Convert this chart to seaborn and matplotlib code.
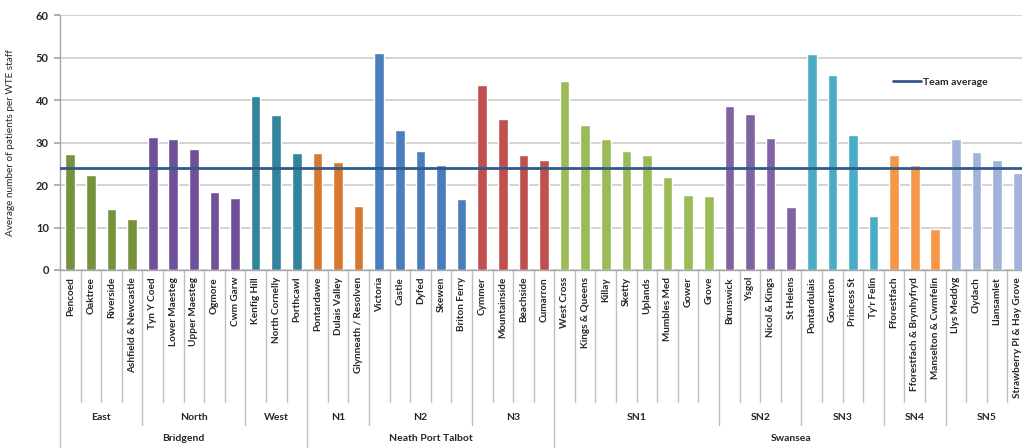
import matplotlib
matplotlib.use("Agg")
import matplotlib.pyplot as plt
import matplotlib.transforms as mtransforms
import seaborn as sns
import pandas as pd

# Practices, the team (sub-area) and the locality they belong to
practices = [
    "Pencoed", "Oaktree", "Riverside", "Ashfield & Newcastle",
    "Tyn Y Coed", "Lower Maesteg", "Upper Maesteg", "Ogmore", "Cwm Garw",
    "Kenfig Hill", "North Cornelly", "Porthcawl",
    "Pontardawe", "Dulais Valley", "Glynneath / Resolven",
    "Victoria", "Castle", "Dyfed", "Skewen", "Briton Ferry",
    "Cymmer", "Mountainside", "Beachside", "Cumarron",
    "West Cross", "Kings & Queens", "Killay", "Sketty", "Uplands",
    "Mumbles Med", "Gower", "Grove",
    "Brunswick", "Ysgol", "Nicol & Kings", "St Helens",
    "Pontardulais", "Gowerton", "Princess St", "Ty'r Felin",
    "Fforestfach", "Fforestfach & Brynhyfryd", "Manselton & Cwmfelin",
    "Llys Meddyg", "Clydach", "Llansamlet", "Strawberry Pl & Hay Grove",
]
patients_per_wte = [
    27.2, 22.4, 14.3, 12.0,
    31.4, 30.8, 28.4, 18.4, 17.0,
    40.9, 36.5, 27.6,
    27.6, 25.4, 15.1,
    51.1, 32.9, 28.1, 24.6, 16.6,
    43.5, 35.5, 27.0, 26.0,
    44.4, 34.1, 30.8, 27.9, 27.1, 21.8, 17.7, 17.5,
    38.6, 36.8, 31.1, 14.9,
    50.9, 45.9, 31.8, 12.6,
    27.0, 24.6, 9.7,
    30.8, 27.8, 25.9, 22.9,
]
teams = ["East", "North", "West", "N1", "N2", "N3", "SN1", "SN2", "SN3", "SN4", "SN5"]
team_sizes = [4, 5, 3, 3, 5, 4, 8, 4, 4, 3, 4]
localities = ["Bridgend", "Neath Port Talbot", "Swansea"]
locality_team_counts = [3, 3, 5]
team_average = 24.1

team_colors = {
    "East": "#76923C", "North": "#6F519A", "West": "#31849B",
    "N1": "#D8782F", "N2": "#4A7EBB", "N3": "#C0504D",
    "SN1": "#9BBB59", "SN2": "#8064A2", "SN3": "#4BACC6",
    "SN4": "#F79646", "SN5": "#A2B2DA",
}

team_of = [t for t, n in zip(teams, team_sizes) for _ in range(n)]
df = pd.DataFrame({"practice": practices, "value": patients_per_wte, "team": team_of})

sns.set_theme(style="white")
plt.rcParams["font.family"] = ["Lato", "DejaVu Sans"]
text_color = "#262626"

W, H = 1022, 448
fig = plt.figure(figsize=(W / 100, H / 100), dpi=100)
ax_left, ax_right, ax_top, ax_bottom = 60, 1028, 15, 270
ax = fig.add_axes([ax_left / W, 1 - ax_bottom / H,
                   (ax_right - ax_left) / W, (ax_bottom - ax_top) / H])

sns.barplot(data=df, x="practice", y="value", hue="team", palette=team_colors,
            dodge=False, width=0.47, legend=False, ax=ax, saturation=1)

ax.axhline(team_average, color="#2F5A8A", lw=2.0, label="Team average", zorder=3)

n = len(practices)
ax.set_xlim(-0.5, n - 0.5)
ax.set_ylim(0, 60)
ax.set_yticks(range(0, 61, 10))
ax.yaxis.grid(True, color="#D0D0D0", lw=1.3)
ax.set_axisbelow(True)
for side in ["top", "right"]:
    ax.spines[side].set_visible(False)
for side in ["left", "bottom"]:
    ax.spines[side].set_color("#A6A6A6")
    ax.spines[side].set_linewidth(1.0)

ax.tick_params(axis="y", which="both", left=True, length=4, color="#A6A6A6",
               labelsize=8, labelcolor=text_color, pad=4)
for lbl in ax.get_yticklabels():
    lbl.set_fontweight("bold")
ax.tick_params(axis="x", length=0, pad=5)
ax.set_xticks(range(n))
ax.set_xticklabels(practices, rotation=90, fontsize=7.2, color=text_color,
                   fontweight="bold", va="top", ha="center")
ax.set_xlabel("")
ax.set_ylabel("Average number of patients per WTE staff", fontsize=7.2,
              color=text_color)
ax.yaxis.set_label_coords((15 - ax_left) / (ax_right - ax_left), 0.5)

# Multi-level category axis: separators and group labels below the bars
trans = mtransforms.blended_transform_factory(ax.transData, ax.transAxes)
axh = ax_bottom - ax_top


def py(pix):
    return -(pix - ax_bottom) / axh


team_edges = [0]
for s in team_sizes:
    team_edges.append(team_edges[-1] + s)
loc_edges = [0]
k = 0
for c in locality_team_counts:
    k += c
    loc_edges.append(team_edges[k])

for i in range(n + 1):
    if i in loc_edges:
        depth = 452
    elif i in team_edges:
        depth = 425
    else:
        depth = 402
    ax.plot([i - 0.5, i - 0.5], [0, py(depth)], transform=trans,
            color="#BFBFBF", lw=1.0, clip_on=False)

for t, a, b in zip(teams, team_edges[:-1], team_edges[1:]):
    ax.text((a + b - 1) / 2, py(417), t, transform=trans, ha="center",
            va="center", fontsize=7.5, fontweight="bold", color=text_color)
for loc, a, b in zip(localities, loc_edges[:-1], loc_edges[1:]):
    ax.text((a + b - 1) / 2, py(438), loc, transform=trans, ha="center",
            va="center", fontsize=7.5, fontweight="bold", color=text_color)

ax.legend(loc="center left", bbox_to_anchor=(893 / W, 1 - 82 / H),
          bbox_transform=fig.transFigure, frameon=False,
          handlelength=2.7, handletextpad=0.15, borderpad=0, borderaxespad=0,
          prop={"weight": "bold", "size": 7.5})

fig.savefig("out.png", dpi=100, facecolor="white")
